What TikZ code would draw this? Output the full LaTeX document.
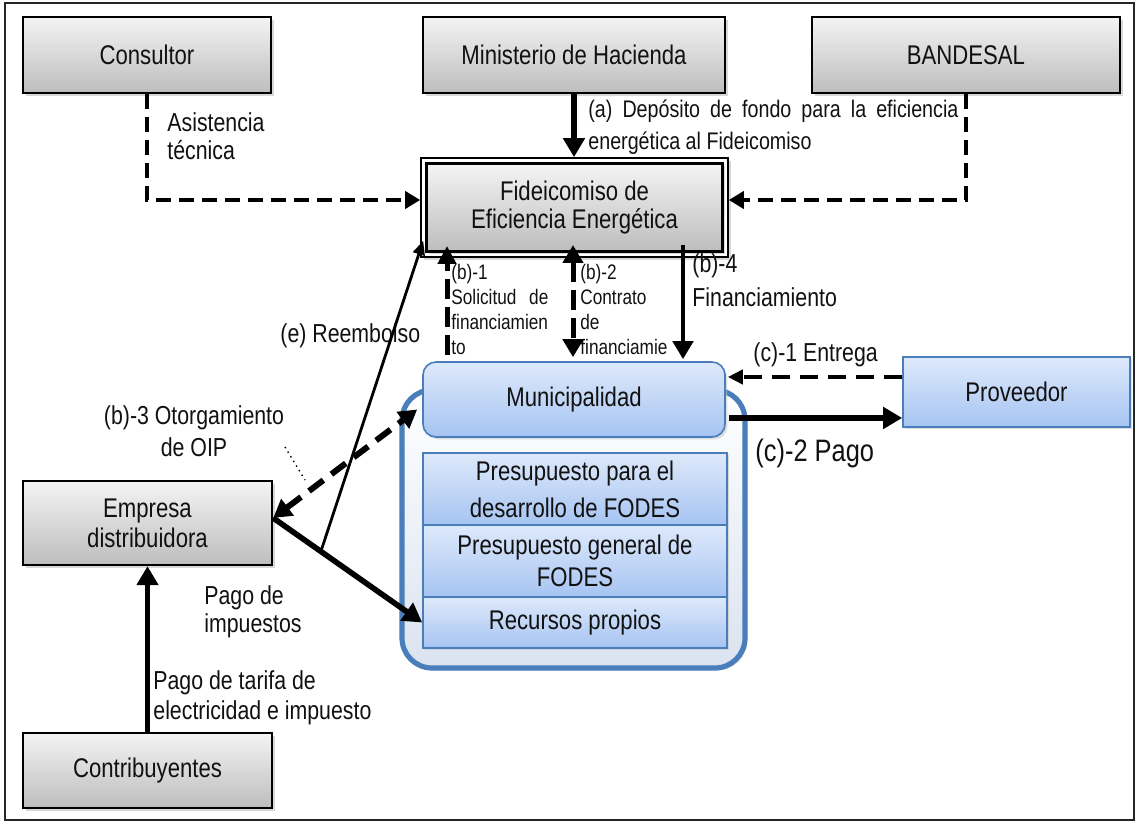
\documentclass[tikz,border=0pt]{standalone}
\usepackage{fontspec}
\setmainfont{Liberation Sans}[FakeStretch=0.82]
\usetikzlibrary{arrows.meta,shadows,calc}

\definecolor{graytop}{HTML}{F4F4F4}
\definecolor{graybot}{HTML}{BDBDBD}
\definecolor{bluetop}{HTML}{DEE9FB}
\definecolor{bluebot}{HTML}{A6C4F2}
\definecolor{blueedge}{HTML}{4A7EBB}
\definecolor{panelbot}{HTML}{DAE3F0}
\definecolor{inkcol}{HTML}{111111}

\newcommand\boxfont{\fontsize{13.5}{15}\selectfont}
\newcommand\lblfont{\fontsize{13}{14}\selectfont}
\newcommand\smallfont{\fontsize{10.5}{12.5}\selectfont}

\begin{document}
\begin{tikzpicture}[x=0.5pt,y=-0.5pt,
  graybox/.style={draw=black, line width=1.2pt, top color=graytop, bottom color=graybot,
    drop shadow={shadow xshift=1.3pt, shadow yshift=-1.3pt, fill=black!30},
    font=\boxfont, text=inkcol, align=center, inner sep=0pt},
  bluebox/.style={draw=blueedge, line width=0.8pt, top color=bluetop, bottom color=bluebot,
    drop shadow={shadow xshift=1.2pt, shadow yshift=-1.2pt, fill=black!25},
    font=\boxfont, text=inkcol, align=center, inner sep=0pt},
  panel/.style={draw=blueedge, line width=2.6pt, rounded corners=15pt, top color=white,
    bottom color=panelbot, drop shadow={shadow xshift=1.2pt, shadow yshift=-1.2pt, fill=black!25}},
  lbl/.style={font=\lblfont, text=inkcol, inner sep=0pt, align=left},
  solidthick/.style={draw=black, line width=2.8pt, -{Triangle[length=9.5pt,width=10.5pt]}},
  solidmid/.style={draw=black, line width=2.4pt, -{Triangle[length=9pt,width=10pt]}},
  thinarrow/.style={draw=black, line width=1.4pt, -{Triangle[length=7pt,width=6pt]}},
  dashthin/.style={draw=black, line width=2pt, dash pattern=on 7.5pt off 4pt,
    -{Triangle[length=7.5pt,width=8.5pt]}},
  dashmed/.style={draw=black, line width=2.4pt, dash pattern=on 9pt off 5pt,
    -{Triangle[length=7.5pt,width=7pt]}},
  dashbold/.style={draw=black, line width=3pt, dash pattern=on 9pt off 5pt,
    {Triangle[length=9pt,width=10pt]}-{Triangle[length=9pt,width=10pt]}},
  dashvert/.style={draw=black, line width=2.5pt, dash pattern=on 10pt off 4pt}
]
\useasboundingbox (0,0) rectangle (1137,823);
\draw[line width=0.8pt, black!85] (5,3) rectangle (1134,820);

% funding panel behind the municipal budget lines
\node[panel, minimum width=171.5pt, minimum height=139pt] (panelbox) at (573.5,529) {};

% top row of actors
\node[graybox, minimum width=124pt, minimum height=38pt] (cons) at (147,55) {Consultor};
\node[graybox, minimum width=151pt, minimum height=38pt] (mini) at (574,55) {Ministerio de Hacienda};
\node[graybox, minimum width=154pt, minimum height=38pt] (band) at (966,55) {BANDESAL};

% trust fund, double frame
\node[draw=black, line width=0.8pt, fill=white, minimum width=153.5pt, minimum height=49.5pt,
  drop shadow={shadow xshift=1.3pt, shadow yshift=-1.3pt, fill=black!30}] (fidout) at (574.5,207.5) {};
\node[graybox, line width=1.5pt, drop shadow={opacity=0}, minimum width=148pt, minimum height=44pt,
  font=\fontsize{13.5}{14}\selectfont] (fid) at (574.5,207.5) {Fideicomiso de\\Eficiencia Energética};

% municipality and its budget lines
\node[bluebox, rounded corners=6.5pt, minimum width=151pt, minimum height=37.5pt] (muni) at (574,399.5) {Municipalidad};
\node[bluebox, minimum width=152pt, minimum height=36pt] (pre1) at (575,489) {\raisebox{-11pt}{\shortstack{Presupuesto para el\\[3pt]desarrollo de FODES}}};
\node[bluebox, minimum width=152pt, minimum height=36pt] (pre2) at (575,561) {\raisebox{-7pt}{\shortstack{Presupuesto general de\\[1pt]FODES}}};
\node[bluebox, minimum width=152pt, minimum height=25.5pt] (rec) at (575,622.5) {Recursos propios};

\node[bluebox, minimum width=113.5pt, minimum height=35pt] (prov) at (1016.5,392) {Proveedor};

% left column
\node[graybox, minimum width=124.5pt, minimum height=42pt] (emp) at (147.5,523) {Empresa\\distribuidora};
\node[graybox, minimum width=124.5pt, minimum height=37.5pt] (contrib) at (147.5,770.5) {Contribuyentes};

% helper points
\coordinate (lvl) at (0,200);
\coordinate (b1x) at (447,0);
\coordinate (b2x) at (573,0);
\coordinate (b4x) at (683,0);
\coordinate (empout) at ($(emp.east)+(0,-5)$);
\coordinate (rb) at ($(empout)!0.32!(rec.west)$);
\coordinate (c1end) at ($(muni.east)+(2,-22.5)$);
\coordinate (c2start) at ($(muni.east)+(3,18.5)$);
\coordinate (lead1) at (285,447);
\coordinate (lead2) at (305,480);

% labels (multi-line nodes are placed by the baseline of their last line)
\node[lbl, anchor=base west] (tasist) at (167,160) {Asistencia\\técnica};
\node[lbl, anchor=base west, font=\fontsize{12}{16}\selectfont] (tdepo) at (588,150)
  {\makebox[185pt][s]{(a) Depósito de fondo para la eficiencia}\\energética al Fideicomiso};
\node[lbl, anchor=base west, font=\smallfont] (tb1) at (451,355)
  {(b)-1\\\makebox[48.5pt][s]{Solicitud de}\\financiamien\\to};
\node[lbl, anchor=base west, font=\smallfont] (tb2) at (580,355)
  {(b)-2\\Contrato\\de\\financiamie};
\node[lbl, anchor=base west, font=\fontsize{13}{17}\selectfont] (tb4) at (692,307)
  {(b)-4\\Financiamiento};
\node[lbl, anchor=base west] (treem) at (280,343) {(e) Reembolso};
\node[lbl, anchor=base, align=center, font=\fontsize{13}{16}\selectfont] (tb3) at (194,457)
  {(b)-3 Otorgamiento\\de OIP};
\node[lbl, anchor=base west] (tc1) at (753,362) {(c)-1 Entrega};
\node[lbl, anchor=base west, font=\fontsize{15.5}{17}\selectfont] (tc2) at (755,462) {(c)-2 Pago};
\node[lbl, anchor=base west] (timp) at (204,633) {Pago de\\impuestos};
\node[lbl, anchor=base west, font=\fontsize{13}{15}\selectfont] (ttar) at (153,720)
  {Pago de tarifa de\\electricidad e impuesto};

% flows
\draw[dashthin] (cons.south) |- (fidout.west |- lvl);
\draw[dashthin] (band.south) |- (fidout.east |- lvl);
\draw[solidthick] (mini.south) -- (mini.south |- fidout.north);

\draw[dashvert, -{Triangle[length=9pt,width=9pt]}] ($(muni.north -| b1x)+(0,-6)$) -- ($(fid.south -| b1x)+(0,-7)$);
\draw[dashvert, {Triangle[length=9pt,width=10pt]}-{Triangle[length=9pt,width=10pt]}]
  ($(fid.south -| b2x)+(0,-8)$) -- ($(muni.north -| b2x)+(0,-4)$);
\draw[solidmid] ($(fid.south -| b4x)+(0,-8)$) -- ($(muni.north -| b4x)+(0,-2)$);

\draw[dashmed] (prov.west |- c1end) -- (c1end);
\draw[solidthick] (c2start) -- (prov.west |- c2start);

\draw[solidthick] (empout) -- (rec.west);
\draw[dashbold] (empout) -- ($(muni.west)+(-5,10)$);
\draw[thinarrow] (rb) -- ($(fidout.south west)+(3,-17)$);
\draw[solidthick] (contrib.north) -- (emp.south);
\draw[dotted, line width=0.7pt] (lead1) -- (lead2);
\end{tikzpicture}
\end{document}
